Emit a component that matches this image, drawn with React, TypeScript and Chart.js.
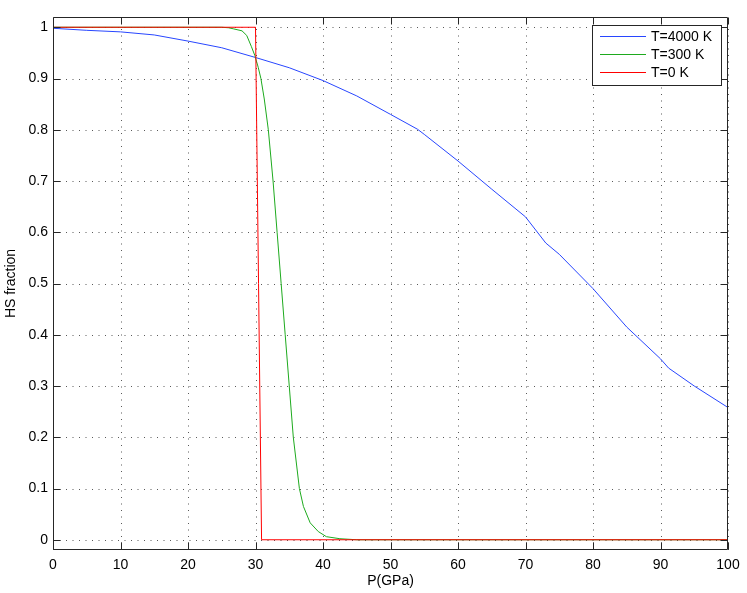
import React, { useEffect, useRef } from "react";
import { Chart, registerables } from "chart.js";

Chart.register(...registerables);

// ---- data ----
const xTicks = [0, 10, 20, 30, 40, 50, 60, 70, 80, 90, 100];
const yTicks = [0, 0.1, 0.2, 0.3, 0.4, 0.5, 0.6, 0.7, 0.8, 0.9, 1];

const blueP = [0, 5, 10, 15, 20, 25, 30, 35, 40, 45, 50, 54, 55, 60, 65, 70, 73, 75, 80, 85, 90, 91.2, 95, 100];
const blueHS = [0.998, 0.994, 0.991, 0.985, 0.973, 0.96, 0.941, 0.921, 0.896, 0.866, 0.83, 0.801, 0.791, 0.739, 0.684, 0.63, 0.579, 0.557, 0.49, 0.415, 0.353, 0.335, 0.3, 0.258];

const greenP = [0, 25, 26, 26.7, 28, 28.7, 29.4, 29.9, 30.4, 30.8, 31.3, 31.9, 32.6, 33.2, 33.8, 34.4, 35.0, 35.6, 36.5, 37.1, 38.1, 39.3, 40.5, 42.5, 45, 100];
const greenHS = [1, 1, 0.999, 0.997, 0.993, 0.984, 0.962, 0.945, 0.922, 0.9, 0.86, 0.8, 0.7, 0.6, 0.5, 0.4, 0.3, 0.2, 0.1, 0.065, 0.033, 0.016, 0.006, 0.002, 0, 0];

const redP = [0, 30, 30.9, 100];
const redHS = [1, 1, 0, 0];

const seriesLabels = ["T=4000 K", "T=300 K", "T=0 K"];
const seriesColors = ["rgb(40,70,255)", "rgb(30,170,30)", "rgb(255,0,0)"];

const FONT = '"Liberation Sans", Arial, Helvetica, sans-serif';

const toPts = (xs: number[], ys: number[]) => xs.map((x, i) => ({ x, y: ys[i] }));

const gridPlugin = {
  id: "dottedGrid",
  beforeDatasetsDraw(chart: any) {
    const { ctx, chartArea } = chart;
    const { left, right, top, bottom } = chartArea;
    const xs = chart.scales.x;
    const ys = chart.scales.y;
    ctx.save();
    ctx.strokeStyle = "rgba(0,0,0,0.65)";
    ctx.lineWidth = 1;
    ctx.setLineDash([1, 5.5]);
    ctx.beginPath();
    xTicks.forEach((v) => {
      const px = Math.round(xs.getPixelForValue(v)) + 0.5;
      ctx.moveTo(px, bottom);
      ctx.lineTo(px, top);
    });
    yTicks.forEach((v) => {
      const py = Math.round(ys.getPixelForValue(v)) + 0.5;
      ctx.moveTo(left, py);
      ctx.lineTo(right, py);
    });
    ctx.stroke();
    ctx.restore();
  },
};

const framePlugin = {
  id: "matlabFrame",
  afterDatasetsDraw(chart: any) {
    const { ctx, chartArea } = chart;
    const { left, right, top, bottom } = chartArea;
    const xs = chart.scales.x;
    const ys = chart.scales.y;
    ctx.save();
    ctx.strokeStyle = "#262626";
    ctx.lineWidth = 1;
    const L = Math.round(left) + 0.5;
    const R = Math.round(right) - 0.5;
    const T = Math.round(top) + 0.5;
    const B = Math.round(bottom) - 0.5;
    ctx.beginPath();
    ctx.rect(L, T, R - L, B - T);
    ctx.stroke();
    const tl = 7;
    ctx.beginPath();
    xTicks.forEach((v) => {
      const px = Math.round(xs.getPixelForValue(v)) + 0.5;
      ctx.moveTo(px, B);
      ctx.lineTo(px, B - tl);
      ctx.moveTo(px, T);
      ctx.lineTo(px, T + tl);
    });
    yTicks.forEach((v) => {
      const py = Math.round(ys.getPixelForValue(v)) + 0.5;
      ctx.moveTo(L, py);
      ctx.lineTo(L + tl, py);
      ctx.moveTo(R, py);
      ctx.lineTo(R - tl, py);
    });
    ctx.stroke();

    // legend box (MATLAB style)
    const bx = 592.5, by = 25.5, bw = 129, bh = 60;
    ctx.fillStyle = "#ffffff";
    ctx.fillRect(bx, by, bw, bh);
    ctx.strokeStyle = "#262626";
    ctx.strokeRect(bx, by, bw, bh);
    const rows = [36.5, 54.5, 72.5];
    ctx.font = `14px ${FONT}`;
    ctx.textBaseline = "middle";
    ctx.textAlign = "left";
    seriesLabels.forEach((lab, i) => {
      ctx.strokeStyle = seriesColors[i];
      ctx.beginPath();
      ctx.moveTo(600, rows[i]);
      ctx.lineTo(646, rows[i]);
      ctx.stroke();
      ctx.fillStyle = "#000000";
      ctx.fillText(lab, 651, rows[i] + 0.5);
    });
    ctx.restore();
  },
};

export default function App() {
  const ref = useRef<HTMLCanvasElement | null>(null);
  useEffect(() => {
    if (!ref.current) return;
    const grid = { display: false, drawTicks: false };
    const chart = new Chart(ref.current, {
      type: "line",
      data: {
        datasets: [
          { label: seriesLabels[0], data: toPts(blueP, blueHS), borderColor: seriesColors[0], borderWidth: 1, pointRadius: 0, tension: 0, order: 3 },
          { label: seriesLabels[1], data: toPts(greenP, greenHS), borderColor: seriesColors[1], borderWidth: 1, pointRadius: 0, tension: 0, order: 2 },
          { label: seriesLabels[2], data: toPts(redP, redHS), borderColor: seriesColors[2], borderWidth: 1, pointRadius: 0, tension: 0, order: 1 },
        ],
      },
      options: {
        animation: false,
        responsive: false,
        devicePixelRatio: 1,
        layout: { padding: { top: 17, right: 19, left: 0, bottom: 0 } },
        plugins: { legend: { display: false }, tooltip: { enabled: false } },
        scales: {
          x: {
            type: "linear",
            min: 0,
            max: 100,
            afterBuildTicks: (s: any) => {
              s.ticks = xTicks.map((v) => ({ value: v }));
            },
            afterFit: (s: any) => {
              s.height = 43;
            },
            grid,
            border: { display: false },
            ticks: {
              color: "#000",
              padding: 7,
              maxRotation: 0,
              autoSkip: false,
              font: { family: FONT, size: 14 },
              callback: (v: any) => String(v),
            },
            title: {
              display: true,
              text: "P(GPa)",
              color: "#000",
              font: { family: FONT, size: 14 },
              padding: { top: 0, bottom: 3 },
            },
          },
          y: {
            type: "linear",
            min: -0.02,
            max: 1.02,
            afterBuildTicks: (s: any) => {
              s.ticks = yTicks.map((v) => ({ value: v }));
            },
            afterFit: (s: any) => {
              s.width = 53;
            },
            grid,
            border: { display: false },
            ticks: {
              color: "#000",
              padding: 5,
              autoSkip: false,
              font: { family: FONT, size: 14 },
              callback: (v: any) => String(Math.round(Number(v) * 10) / 10),
            },
            title: {
              display: true,
              text: "HS fraction",
              color: "#000",
              font: { family: FONT, size: 14 },
              padding: { top: 3, bottom: 0 },
            },
          },
        },
      },
      plugins: [gridPlugin, framePlugin],
    } as any);
    return () => chart.destroy();
  }, []);
  return (
    <div style={{ position: "fixed", left: 0, top: 0, width: 747, height: 593, background: "#fff" }}>
      <canvas ref={ref} width={747} height={593} style={{ display: "block", width: 747, height: 593 }} />
    </div>
  );
}
